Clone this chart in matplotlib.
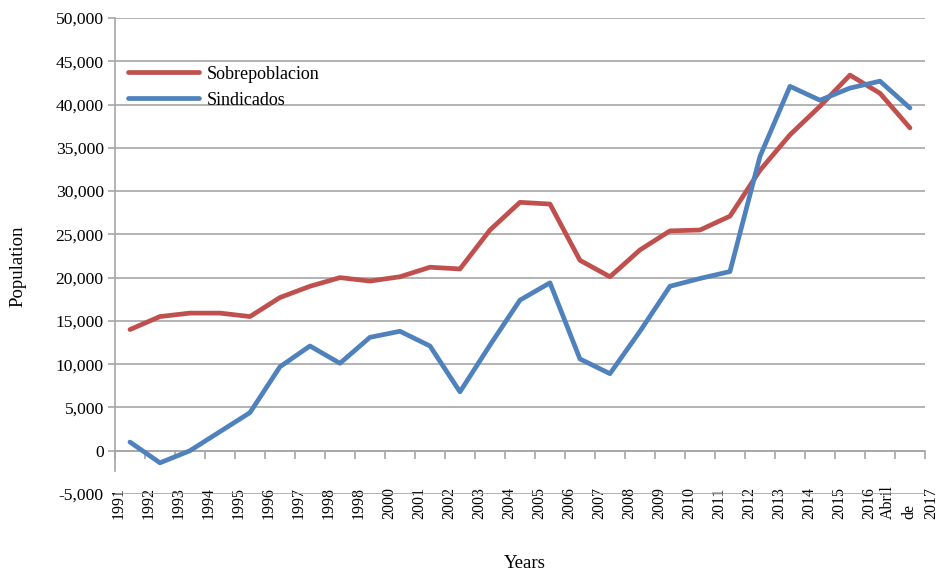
import numpy as np
import matplotlib.pyplot as plt
from matplotlib.ticker import FuncFormatter, FixedLocator

plt.rcParams["font.family"] = ["Liberation Serif", "DejaVu Serif"]

years = ["1991", "1992", "1993", "1994", "1995", "1996", "1997", "1998", "1998",
         "2000", "2001", "2002", "2003", "2004", "2005", "2006", "2007", "2008",
         "2009", "2010", "2011", "2012", "2013", "2014", "2015", "2016",
         "Abril\nde\n2017"]

sobrepoblacion = [14000, 15500, 15900, 15900, 15500, 17700, 19000, 20000, 19600,
                  20100, 21200, 21000, 25500, 28700, 28500, 22000, 20100, 23200,
                  25400, 25500, 27100, 32400, 36500, 39800, 43400, 41300, 37300]

sindicados = [1000, -1400, 0, 2200, 4400, 9700, 12100, 10100, 13100,
              13800, 12100, 6800, 12200, 17400, 19400, 10600, 8900, 13800,
              19000, 19900, 20700, 34000, 42100, 40500, 41900, 42700, 39600]

red = "#C0504D"
blue = "#4F81BD"
grid_c = "#A6A6A6"

fig = plt.figure(figsize=(9.4, 5.71), dpi=100)
ax = fig.add_axes([0.1223, 0.1349, 0.8617, 0.8336])

x = np.arange(len(years))
ax.plot(x, sobrepoblacion, color=red, lw=3.4, label="Sobrepoblacion",
        solid_capstyle="round", solid_joinstyle="round", zorder=3)
ax.plot(x, sindicados, color=blue, lw=3.4, label="Sindicados",
        solid_capstyle="round", solid_joinstyle="round", zorder=3)

ax.set_xlim(-0.5, len(years) - 0.5)
ax.set_ylim(-5000, 50000)
ax.set_yticks(np.arange(-5000, 50001, 5000))
ax.yaxis.set_major_formatter(FuncFormatter(lambda v, p: f"{int(v):,}"))
ax.yaxis.grid(True, color=grid_c, lw=1.2)
ax.set_axisbelow(True)

for s in ["top", "right"]:
    ax.spines[s].set_visible(False)
ax.spines["left"].set_color(grid_c)
ax.spines["left"].set_linewidth(1.2)
ax.spines["left"].set_bounds(-2400, 50000)
ax.spines["bottom"].set_position(("data", 0))
ax.spines["bottom"].set_color(grid_c)
ax.spines["bottom"].set_linewidth(1.2)

# category labels sit a little left of the points, like the original
label_pos = list(x[:-1] - 0.37) + [x[-1] - 0.02]
ax.xaxis.set_major_locator(FixedLocator(label_pos))
ax.set_xticklabels(years, rotation=90, va="bottom", ha="center", ma="left",
                   linespacing=1.45)
ax.xaxis.set_minor_locator(FixedLocator(np.arange(-0.5, len(years), 1.0)))
ax.tick_params(axis="x", which="major", length=0, pad=49, labelsize=11.5)
ax.tick_params(axis="x", which="minor", length=6, color=grid_c, width=1.2)
ax.tick_params(axis="y", length=5, color=grid_c, width=1.2, labelsize=12.6, pad=3)
ax.yaxis.get_major_ticks()[0].tick1line.set_visible(False)

ax.set_xlabel("Years", fontsize=13.5)
ax.xaxis.set_label_coords(0.506, -0.128)
ax.set_ylabel("Population", fontsize=13.5)
ax.yaxis.set_label_coords(-0.109, 0.479)

ax.legend(loc="upper left", bbox_to_anchor=(0.0074, 0.915), frameon=False,
          fontsize=13, handlelength=3.9, handletextpad=0.45,
          labelspacing=0.5, borderaxespad=0.0)

fig.savefig("out.png", dpi=100)
